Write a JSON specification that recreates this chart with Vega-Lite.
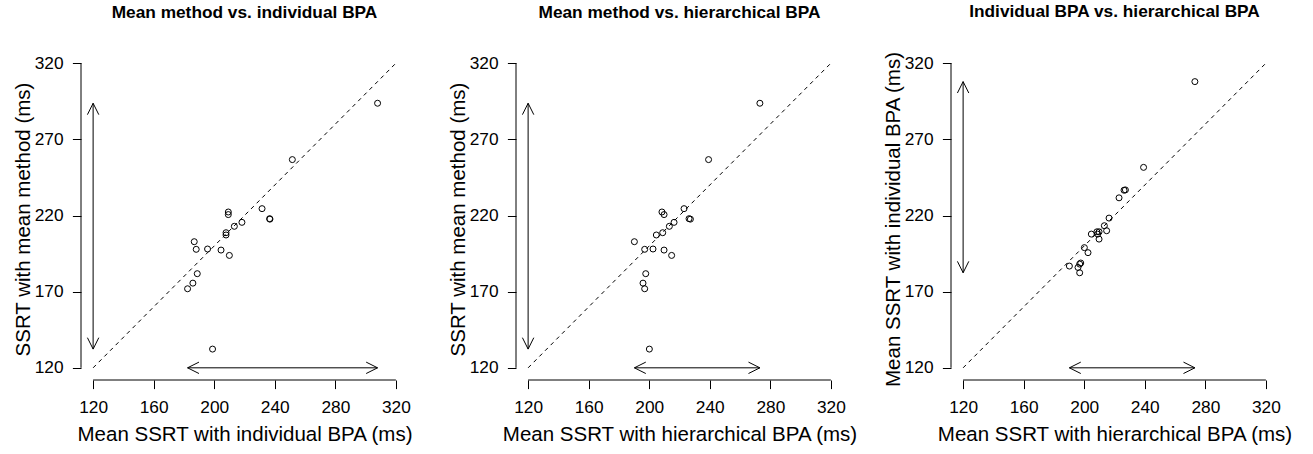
{
  "$schema": "https://vega.github.io/schema/vega-lite/v6.json",
  "background": "white",
  "padding": {"left": 13, "top": 3, "right": 0, "bottom": 0},
  "datasets": {
    "ssrt": [
      {"m": 293.7, "i": 307.9, "h": 273.1},
      {"m": 256.7, "i": 251.6, "h": 239.2},
      {"m": 224.5, "i": 231.6, "h": 223.0},
      {"m": 217.9, "i": 236.6, "h": 226.3},
      {"m": 217.6, "i": 236.8, "h": 227.2},
      {"m": 222.3, "i": 209.3, "h": 208.4},
      {"m": 220.6, "i": 209.3, "h": 209.8},
      {"m": 215.5, "i": 218.3, "h": 216.4},
      {"m": 212.9, "i": 213.3, "h": 213.3},
      {"m": 208.7, "i": 207.8, "h": 208.9},
      {"m": 207.2, "i": 207.8, "h": 204.7},
      {"m": 202.8, "i": 186.8, "h": 190.2},
      {"m": 197.8, "i": 188.1, "h": 197.0},
      {"m": 198.0, "i": 195.6, "h": 202.5},
      {"m": 197.3, "i": 204.5, "h": 209.8},
      {"m": 193.8, "i": 210.0, "h": 214.8},
      {"m": 181.8, "i": 188.8, "h": 197.7},
      {"m": 175.6, "i": 185.9, "h": 195.9},
      {"m": 171.9, "i": 182.4, "h": 197.0},
      {"m": 132.3, "i": 198.9, "h": 200.1}
    ],
    "diag": [{"v": 120}, {"v": 320}]
  },
  "spacing": 108,
  "bounds": "flush",
  "hconcat": [
    {
      "width": 327, "height": 329,
      "title": "Mean method vs. individual BPA",
      "layer": [
        {"data": {"name": "ssrt"}, "mark": {"type": "point", "shape": "circle", "size": 36, "filled": false, "color": "black", "strokeWidth": 1, "opacity": 1},
         "encoding": {"x": {"field": "i", "type": "quantitative", "scale": {"domain": [112, 328], "nice": false, "zero": false}, "axis": {"title": "Mean SSRT with individual BPA (ms)", "values": [120, 160, 200, 240, 280, 320]}},
                      "y": {"field": "m", "type": "quantitative", "scale": {"domain": [112, 328], "nice": false, "zero": false}, "axis": {"title": "SSRT with mean method (ms)", "values": [120, 170, 220, 270, 320]}}}},
        {"data": {"name": "diag"}, "mark": {"type": "line", "color": "black", "strokeWidth": 1, "strokeDash": [4, 4]},
         "encoding": {"x": {"field": "v", "type": "quantitative"}, "y": {"field": "v", "type": "quantitative"}}},
        {"data": {"values": [{}]}, "mark": {"type": "rule", "color": "black", "strokeWidth": 1},
         "encoding": {"x": {"datum": 120, "type": "quantitative"}, "x2": {"datum": 320}, "y": {"datum": 112, "type": "quantitative"}}},
        {"data": {"values": [{}]}, "mark": {"type": "rule", "color": "black", "strokeWidth": 1},
         "encoding": {"y": {"datum": 120, "type": "quantitative"}, "y2": {"datum": 320}, "x": {"datum": 112, "type": "quantitative"}}},
        {"data": {"name": "ssrt"}, "transform": [{"aggregate": [{"op": "min", "field": "m", "as": "mlo"}, {"op": "max", "field": "m", "as": "mhi"}]}],
         "mark": {"type": "rule", "color": "black", "strokeWidth": 1},
         "encoding": {"x": {"datum": 120, "type": "quantitative"}, "y": {"field": "mlo", "type": "quantitative"}, "y2": {"field": "mhi"}}},
        {"data": {"name": "ssrt"}, "transform": [{"aggregate": [{"op": "min", "field": "m", "as": "mlo"}, {"op": "max", "field": "m", "as": "mhi"}]}],
         "mark": {"type": "point", "shape": "M -1 2 L 0 0 L 1 2", "size": 130, "angle": 0, "filled": false, "color": "black", "strokeWidth": 1, "opacity": 1},
         "encoding": {"x": {"datum": 120, "type": "quantitative"}, "y": {"field": "mhi", "type": "quantitative"}}},
        {"data": {"name": "ssrt"}, "transform": [{"aggregate": [{"op": "min", "field": "m", "as": "mlo"}, {"op": "max", "field": "m", "as": "mhi"}]}],
         "mark": {"type": "point", "shape": "M -1 2 L 0 0 L 1 2", "size": 130, "angle": 180, "filled": false, "color": "black", "strokeWidth": 1, "opacity": 1},
         "encoding": {"x": {"datum": 120, "type": "quantitative"}, "y": {"field": "mlo", "type": "quantitative"}}},
        {"data": {"name": "ssrt"}, "transform": [{"aggregate": [{"op": "min", "field": "i", "as": "ilo"}, {"op": "max", "field": "i", "as": "ihi"}]}],
         "mark": {"type": "rule", "color": "black", "strokeWidth": 1},
         "encoding": {"y": {"datum": 120, "type": "quantitative"}, "x": {"field": "ilo", "type": "quantitative"}, "x2": {"field": "ihi"}}},
        {"data": {"name": "ssrt"}, "transform": [{"aggregate": [{"op": "min", "field": "i", "as": "ilo"}, {"op": "max", "field": "i", "as": "ihi"}]}],
         "mark": {"type": "point", "shape": "M -1 2 L 0 0 L 1 2", "size": 130, "angle": 90, "filled": false, "color": "black", "strokeWidth": 1, "opacity": 1},
         "encoding": {"y": {"datum": 120, "type": "quantitative"}, "x": {"field": "ihi", "type": "quantitative"}}},
        {"data": {"name": "ssrt"}, "transform": [{"aggregate": [{"op": "min", "field": "i", "as": "ilo"}, {"op": "max", "field": "i", "as": "ihi"}]}],
         "mark": {"type": "point", "shape": "M -1 2 L 0 0 L 1 2", "size": 130, "angle": 270, "filled": false, "color": "black", "strokeWidth": 1, "opacity": 1},
         "encoding": {"y": {"datum": 120, "type": "quantitative"}, "x": {"field": "ilo", "type": "quantitative"}}}
      ]
    },
    {
      "width": 327, "height": 329,
      "title": "Mean method vs. hierarchical BPA",
      "layer": [
        {"data": {"name": "ssrt"}, "mark": {"type": "point", "shape": "circle", "size": 36, "filled": false, "color": "black", "strokeWidth": 1, "opacity": 1},
         "encoding": {"x": {"field": "h", "type": "quantitative", "scale": {"domain": [112, 328], "nice": false, "zero": false}, "axis": {"title": "Mean SSRT with hierarchical BPA (ms)", "values": [120, 160, 200, 240, 280, 320]}},
                      "y": {"field": "m", "type": "quantitative", "scale": {"domain": [112, 328], "nice": false, "zero": false}, "axis": {"title": "SSRT with mean method (ms)", "values": [120, 170, 220, 270, 320]}}}},
        {"data": {"name": "diag"}, "mark": {"type": "line", "color": "black", "strokeWidth": 1, "strokeDash": [4, 4]},
         "encoding": {"x": {"field": "v", "type": "quantitative"}, "y": {"field": "v", "type": "quantitative"}}},
        {"data": {"values": [{}]}, "mark": {"type": "rule", "color": "black", "strokeWidth": 1},
         "encoding": {"x": {"datum": 120, "type": "quantitative"}, "x2": {"datum": 320}, "y": {"datum": 112, "type": "quantitative"}}},
        {"data": {"values": [{}]}, "mark": {"type": "rule", "color": "black", "strokeWidth": 1},
         "encoding": {"y": {"datum": 120, "type": "quantitative"}, "y2": {"datum": 320}, "x": {"datum": 112, "type": "quantitative"}}},
        {"data": {"name": "ssrt"}, "transform": [{"aggregate": [{"op": "min", "field": "m", "as": "mlo"}, {"op": "max", "field": "m", "as": "mhi"}]}],
         "mark": {"type": "rule", "color": "black", "strokeWidth": 1},
         "encoding": {"x": {"datum": 120, "type": "quantitative"}, "y": {"field": "mlo", "type": "quantitative"}, "y2": {"field": "mhi"}}},
        {"data": {"name": "ssrt"}, "transform": [{"aggregate": [{"op": "min", "field": "m", "as": "mlo"}, {"op": "max", "field": "m", "as": "mhi"}]}],
         "mark": {"type": "point", "shape": "M -1 2 L 0 0 L 1 2", "size": 130, "angle": 0, "filled": false, "color": "black", "strokeWidth": 1, "opacity": 1},
         "encoding": {"x": {"datum": 120, "type": "quantitative"}, "y": {"field": "mhi", "type": "quantitative"}}},
        {"data": {"name": "ssrt"}, "transform": [{"aggregate": [{"op": "min", "field": "m", "as": "mlo"}, {"op": "max", "field": "m", "as": "mhi"}]}],
         "mark": {"type": "point", "shape": "M -1 2 L 0 0 L 1 2", "size": 130, "angle": 180, "filled": false, "color": "black", "strokeWidth": 1, "opacity": 1},
         "encoding": {"x": {"datum": 120, "type": "quantitative"}, "y": {"field": "mlo", "type": "quantitative"}}},
        {"data": {"name": "ssrt"}, "transform": [{"aggregate": [{"op": "min", "field": "h", "as": "hlo"}, {"op": "max", "field": "h", "as": "hhi"}]}],
         "mark": {"type": "rule", "color": "black", "strokeWidth": 1},
         "encoding": {"y": {"datum": 120, "type": "quantitative"}, "x": {"field": "hlo", "type": "quantitative"}, "x2": {"field": "hhi"}}},
        {"data": {"name": "ssrt"}, "transform": [{"aggregate": [{"op": "min", "field": "h", "as": "hlo"}, {"op": "max", "field": "h", "as": "hhi"}]}],
         "mark": {"type": "point", "shape": "M -1 2 L 0 0 L 1 2", "size": 130, "angle": 90, "filled": false, "color": "black", "strokeWidth": 1, "opacity": 1},
         "encoding": {"y": {"datum": 120, "type": "quantitative"}, "x": {"field": "hhi", "type": "quantitative"}}},
        {"data": {"name": "ssrt"}, "transform": [{"aggregate": [{"op": "min", "field": "h", "as": "hlo"}, {"op": "max", "field": "h", "as": "hhi"}]}],
         "mark": {"type": "point", "shape": "M -1 2 L 0 0 L 1 2", "size": 130, "angle": 270, "filled": false, "color": "black", "strokeWidth": 1, "opacity": 1},
         "encoding": {"y": {"datum": 120, "type": "quantitative"}, "x": {"field": "hlo", "type": "quantitative"}}}
      ]
    },
    {
      "width": 327, "height": 329,
      "title": "Individual BPA vs. hierarchical BPA",
      "layer": [
        {"data": {"name": "ssrt"}, "mark": {"type": "point", "shape": "circle", "size": 36, "filled": false, "color": "black", "strokeWidth": 1, "opacity": 1},
         "encoding": {"x": {"field": "h", "type": "quantitative", "scale": {"domain": [112, 328], "nice": false, "zero": false}, "axis": {"title": "Mean SSRT with hierarchical BPA (ms)", "values": [120, 160, 200, 240, 280, 320]}},
                      "y": {"field": "i", "type": "quantitative", "scale": {"domain": [112, 328], "nice": false, "zero": false}, "axis": {"title": "Mean SSRT with individual BPA (ms)", "values": [120, 170, 220, 270, 320]}}}},
        {"data": {"name": "diag"}, "mark": {"type": "line", "color": "black", "strokeWidth": 1, "strokeDash": [4, 4]},
         "encoding": {"x": {"field": "v", "type": "quantitative"}, "y": {"field": "v", "type": "quantitative"}}},
        {"data": {"values": [{}]}, "mark": {"type": "rule", "color": "black", "strokeWidth": 1},
         "encoding": {"x": {"datum": 120, "type": "quantitative"}, "x2": {"datum": 320}, "y": {"datum": 112, "type": "quantitative"}}},
        {"data": {"values": [{}]}, "mark": {"type": "rule", "color": "black", "strokeWidth": 1},
         "encoding": {"y": {"datum": 120, "type": "quantitative"}, "y2": {"datum": 320}, "x": {"datum": 112, "type": "quantitative"}}},
        {"data": {"name": "ssrt"}, "transform": [{"aggregate": [{"op": "min", "field": "i", "as": "ilo"}, {"op": "max", "field": "i", "as": "ihi"}]}],
         "mark": {"type": "rule", "color": "black", "strokeWidth": 1},
         "encoding": {"x": {"datum": 120, "type": "quantitative"}, "y": {"field": "ilo", "type": "quantitative"}, "y2": {"field": "ihi"}}},
        {"data": {"name": "ssrt"}, "transform": [{"aggregate": [{"op": "min", "field": "i", "as": "ilo"}, {"op": "max", "field": "i", "as": "ihi"}]}],
         "mark": {"type": "point", "shape": "M -1 2 L 0 0 L 1 2", "size": 130, "angle": 0, "filled": false, "color": "black", "strokeWidth": 1, "opacity": 1},
         "encoding": {"x": {"datum": 120, "type": "quantitative"}, "y": {"field": "ihi", "type": "quantitative"}}},
        {"data": {"name": "ssrt"}, "transform": [{"aggregate": [{"op": "min", "field": "i", "as": "ilo"}, {"op": "max", "field": "i", "as": "ihi"}]}],
         "mark": {"type": "point", "shape": "M -1 2 L 0 0 L 1 2", "size": 130, "angle": 180, "filled": false, "color": "black", "strokeWidth": 1, "opacity": 1},
         "encoding": {"x": {"datum": 120, "type": "quantitative"}, "y": {"field": "ilo", "type": "quantitative"}}},
        {"data": {"name": "ssrt"}, "transform": [{"aggregate": [{"op": "min", "field": "h", "as": "hlo"}, {"op": "max", "field": "h", "as": "hhi"}]}],
         "mark": {"type": "rule", "color": "black", "strokeWidth": 1},
         "encoding": {"y": {"datum": 120, "type": "quantitative"}, "x": {"field": "hlo", "type": "quantitative"}, "x2": {"field": "hhi"}}},
        {"data": {"name": "ssrt"}, "transform": [{"aggregate": [{"op": "min", "field": "h", "as": "hlo"}, {"op": "max", "field": "h", "as": "hhi"}]}],
         "mark": {"type": "point", "shape": "M -1 2 L 0 0 L 1 2", "size": 130, "angle": 90, "filled": false, "color": "black", "strokeWidth": 1, "opacity": 1},
         "encoding": {"y": {"datum": 120, "type": "quantitative"}, "x": {"field": "hhi", "type": "quantitative"}}},
        {"data": {"name": "ssrt"}, "transform": [{"aggregate": [{"op": "min", "field": "h", "as": "hlo"}, {"op": "max", "field": "h", "as": "hhi"}]}],
         "mark": {"type": "point", "shape": "M -1 2 L 0 0 L 1 2", "size": 130, "angle": 270, "filled": false, "color": "black", "strokeWidth": 1, "opacity": 1},
         "encoding": {"y": {"datum": 120, "type": "quantitative"}, "x": {"field": "hlo", "type": "quantitative"}}}
      ]
    }
  ],
  "config": {
    "view": {"stroke": null},
    "font": "Liberation Sans",
    "axis": {
      "domain": false, "grid": false,
      "tickColor": "black", "tickSize": 8.6, "tickWidth": 1,
      "labelFont": "Liberation Sans", "labelFontSize": 17.3, "labelColor": "black",
      "labelFlush": false, "labelOverlap": false,
      "titleFont": "Liberation Sans", "titleFontSize": 20.5, "titleFontWeight": "normal", "titleColor": "black"
    },
    "axisX": {"labelPadding": 10, "titlePadding": 9},
    "axisY": {"labelPadding": 9.4, "titlePadding": 1, "titleY": 168},
    "title": {"font": "Liberation Sans", "fontSize": 17.3, "fontWeight": "bold", "color": "black", "anchor": "middle", "frame": "group", "baseline": "alphabetic", "offset": 30}
  }
}
